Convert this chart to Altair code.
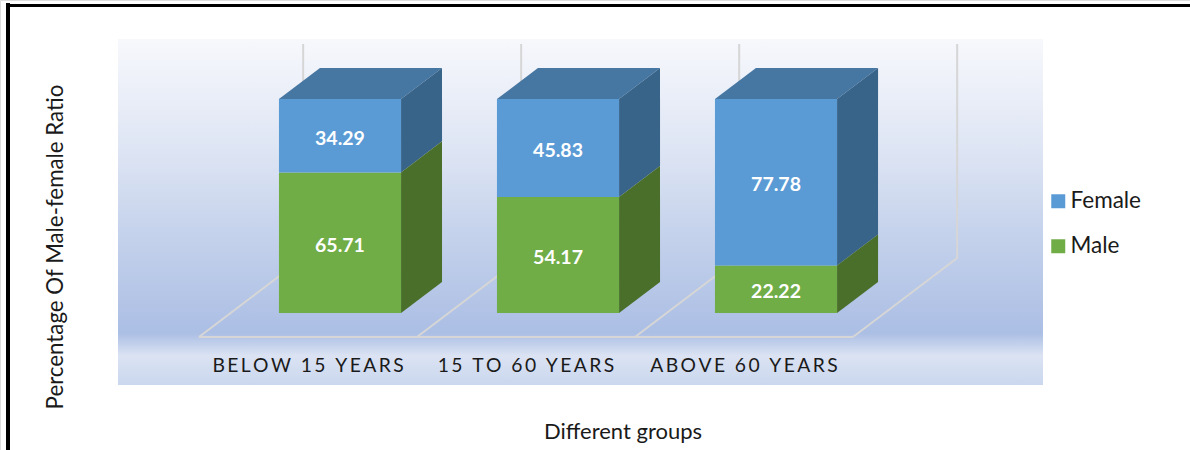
import altair as alt
import pandas as pd

# Chart values
groups = ["BELOW 15 YEARS", "15 TO 60 YEARS", "ABOVE 60 YEARS"]
female = [34.29, 45.83, 77.78]
male = [65.71, 54.17, 22.22]
series_names = ["Female", "Male"]

# Colours of the three visible faces of each box
front_colors = ["#5b9bd5", "#70ad47"]
side_female, side_male, top_color = "#39648a", "#4a6f2b", "#4676a2"
grid_color = "#d6d6d6"
font = "Lato"

# Box geometry in axis units (group spacing = 1 on x, percent on y)
half_w = 0.28
depth_x, depth_y = 0.188, 14.5
floor_x0, floor_shift = -0.647, 0.478
floor_front, floor_back = -11.2, 25.7

x_scale = alt.Scale(domain=[-1.5596, 3.899], nice=False, zero=False)
y_scale = alt.Scale(domain=[-64.02, 146.26], nice=False, zero=False)
X = alt.X("x:Q", scale=x_scale, axis=None)
Y = alt.Y("y:Q", scale=y_scale, axis=None, stack=None)

front_rows, label_rows, side_rows, top_rows, line_rows = [], [], [], [], []
for i, (f, m) in enumerate(zip(female, male)):
    l, r = i - half_w, i + half_w
    for name, lo, hi, side in (("Male", 0, m, side_male), ("Female", m, m + f, side_female)):
        front_rows.append(dict(x=l, x2=r, y=lo, y2=hi, series=name))
        label_rows.append(dict(x=i, y=(lo + hi) / 2, text=f"{hi - lo:.2f}"))
        key = f"{name}{i}"
        side_rows.append(dict(x=r, y=lo, y2=hi, key=key, fill=side))
        side_rows.append(dict(x=r + depth_x, y=lo + depth_y, y2=hi + depth_y, key=key, fill=side))
    top = m + f
    for x, y0, y1 in ((l, top, top), (l + depth_x, top, top + depth_y),
                      (r, top, top + depth_y), (r + depth_x, top + depth_y, top + depth_y)):
        top_rows.append(dict(x=x, y=y0, y2=y1, key=i))

# Floor outline and back-wall uprights
for i in range(4):
    fx = floor_x0 + i
    bx = fx + floor_shift
    line_rows += [dict(x=fx, y=floor_front, key=i, seq=0),
                  dict(x=bx, y=floor_back, key=i, seq=1),
                  dict(x=bx, y=floor_back + 100, key=i, seq=2)]
line_rows += [dict(x=floor_x0, y=floor_front, key=9, seq=0),
              dict(x=floor_x0 + 3, y=floor_front, key=9, seq=1)]

sides = pd.DataFrame(side_rows)

panel = alt.Chart(pd.DataFrame({"a": [0]})).mark_rect(
    color=alt.Gradient(
        gradient="linear", x1=0, y1=0, x2=0, y2=1,
        stops=[
            alt.GradientStop(offset=0, color="#f7f8fc"),
            alt.GradientStop(offset=0.35, color="#dbe3f3"),
            alt.GradientStop(offset=0.55, color="#c6d3ec"),
            alt.GradientStop(offset=0.85, color="#abbee4"),
            alt.GradientStop(offset=0.915, color="#dbe3f3"),
            alt.GradientStop(offset=1, color="#cad7ee"),
        ],
    )
).encode(x=alt.value(118), x2=alt.value(1043), y=alt.value(39), y2=alt.value(385))

frame = alt.Chart(pd.DataFrame({"a": [0]})).mark_rule(color="black", strokeWidth=4)
frame_left = frame.encode(x=alt.value(8), y=alt.value(3), y2=alt.value(450))
frame_top = alt.Chart(pd.DataFrame({"a": [0]})).mark_rule(color="black", strokeWidth=3).encode(
    x=alt.value(6), x2=alt.value(1190), y=alt.value(5.5))

grid = alt.Chart(pd.DataFrame(line_rows)).mark_line(color=grid_color, strokeWidth=2).encode(
    x=X, y=Y, detail="key:N", order="seq:Q")

tops = alt.Chart(pd.DataFrame(top_rows)).mark_area(color=top_color).encode(
    x=X, y=Y, y2="y2:Q", detail="key:N")

side_layers = [
    alt.Chart(sides[sides.fill == c]).mark_area(color=c).encode(x=X, y=Y, y2="y2:Q", detail="key:N")
    for c in (side_female, side_male)
]

fronts = alt.Chart(pd.DataFrame(front_rows)).mark_rect().encode(
    x=X, x2="x2:Q", y=Y, y2="y2:Q",
    color=alt.Color(
        "series:N",
        scale=alt.Scale(domain=series_names, range=front_colors),
        legend=alt.Legend(
            title=None, orient="none", legendX=1047, legendY=190,
            symbolType="square", symbolSize=196, symbolStrokeWidth=0,
            labelFont=font, labelFontSize=22.5, labelColor="#1a1a1a",
            labelOffset=1, rowPadding=22, symbolOpacity=1,
        ),
    ),
)

values = alt.Chart(pd.DataFrame(label_rows)).mark_text(
    font=font, fontSize=19.5, fontWeight="bold", color="white", dy=3
).encode(x=X, y=Y, text="text:N")

# Vega has no tracking option, so the group labels are spread with thin spaces
tracked = ["\u2009".join(g) for g in groups]
cat_df = pd.DataFrame({"x": list(range(3)), "text": tracked})
categories = alt.Chart(cat_df).mark_text(
    font=font, fontSize=19.3, color="#1a1a1a", dx=-32
).encode(x=X, y=alt.value(366), text="text:N")

y_title = alt.Chart(pd.DataFrame({"t": ["Percentage Of Male-female Ratio"]})).mark_text(
    font=font, fontSize=22.3, color="#1a1a1a", angle=270
).encode(x=alt.value(56), y=alt.value(247), text="t:N")

x_title = alt.Chart(pd.DataFrame({"t": ["Different groups"]})).mark_text(
    font=font, fontSize=22, color="#1a1a1a"
).encode(x=alt.value(623), y=alt.value(432), text="t:N")

chart = alt.layer(
    panel, frame_left, frame_top, grid, tops, *side_layers, fronts,
    values, categories, y_title, x_title,
).properties(
    width=1190, height=450, padding=0,
    autosize=alt.AutoSizeParams(type="none"),
).configure_view(stroke=None).configure(background="white")

chart.save("out.html", embed_options={"renderer": "svg", "actions": False})
